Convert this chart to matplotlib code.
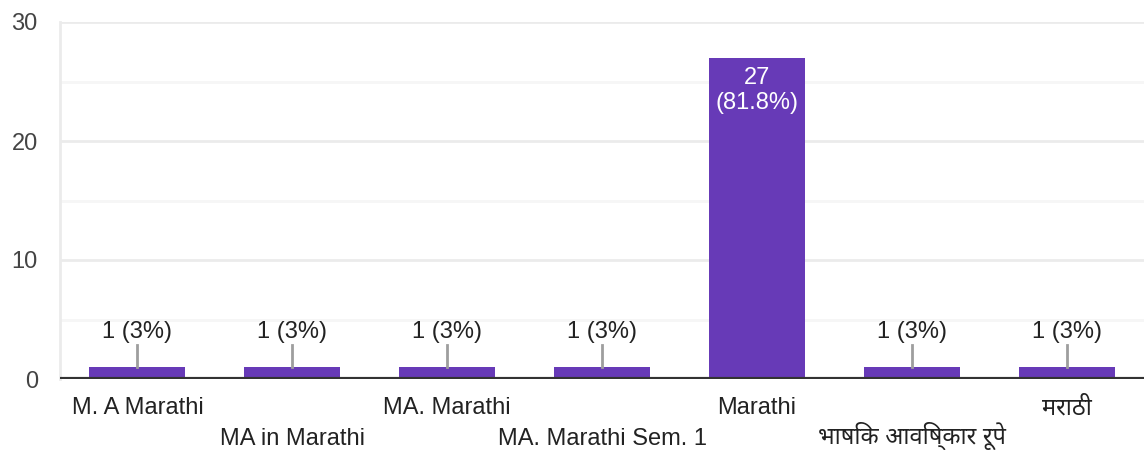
import matplotlib
matplotlib.use("Agg")
import matplotlib.pyplot as plt
import numpy as np

categories = ["M. A Marathi", "MA in Marathi", "MA. Marathi", "MA. Marathi Sem. 1",
              "Marathi", "भाषिक आविष्कार रूपे", "मराठी"]
counts = [1, 1, 1, 1, 27, 1, 1]
labels = ["1 (3%)", "1 (3%)", "1 (3%)", "1 (3%)", "27\n(81.8%)", "1 (3%)", "1 (3%)"]
yticks = [0, 10, 20, 30]

plt.rcParams['font.family'] = ['Liberation Sans', 'Noto Sans Devanagari', 'Lohit Devanagari',
                               'FreeSans', 'Noto Sans', 'DejaVu Sans']

bar_color = "#673ab7"
fs = 17

fig = plt.figure(figsize=(11.44, 4.5), dpi=100)
ax = fig.add_axes([60 / 1144, 1 - 379 / 450, 1 - 60 / 1144, (379 - 22) / 450])

x = np.arange(len(categories))
ax.bar(x, counts, width=0.62, color=bar_color, zorder=3)

ax.set_xlim(-0.5, len(categories) - 0.5)
ax.set_ylim(0, 30)

# grid lines
for v in [5, 15, 25]:
    ax.axhline(v, color="#f6f6f6", lw=2, zorder=1)
for v in [10, 20, 30]:
    ax.axhline(v, color="#ebebeb", lw=2, zorder=1)
ax.axhline(0, color="#333333", lw=3, zorder=4)

for s in ["top", "right", "bottom"]:
    ax.spines[s].set_visible(False)
ax.spines["left"].set_color("#ebebeb")
ax.spines["left"].set_linewidth(2)

ax.set_yticks(yticks)
ax.set_yticklabels([str(t) for t in yticks], fontsize=fs, color="#444444")
ax.tick_params(axis="y", length=0, pad=16)
ax.set_xticks([])

# value labels
for i, (c, lab) in enumerate(zip(counts, labels)):
    if c > 5:
        ax.text(i, c - 2.75, lab, ha="center", va="center", fontsize=fs,
                color="white", linespacing=1.18, zorder=5)
    else:
        ax.plot([i, i], [c, c + 1.85], color="#9e9e9e", lw=2, zorder=5)
        ax.text(i, c + 2.95, lab, ha="center", va="center", fontsize=fs,
                color="#222222", zorder=5)

# staggered category labels
for i, name in enumerate(categories):
    row = i % 2
    dy = -29 - row * 31
    if not name.isascii():
        dy += 3 if row else 0
    ax.annotate(name, xy=(i, 0), xycoords="data", xytext=(0, dy),
                textcoords="offset pixels", ha="center", va="center",
                fontsize=fs, color="#222222", annotation_clip=False)

fig.savefig("out.png", dpi=100)
